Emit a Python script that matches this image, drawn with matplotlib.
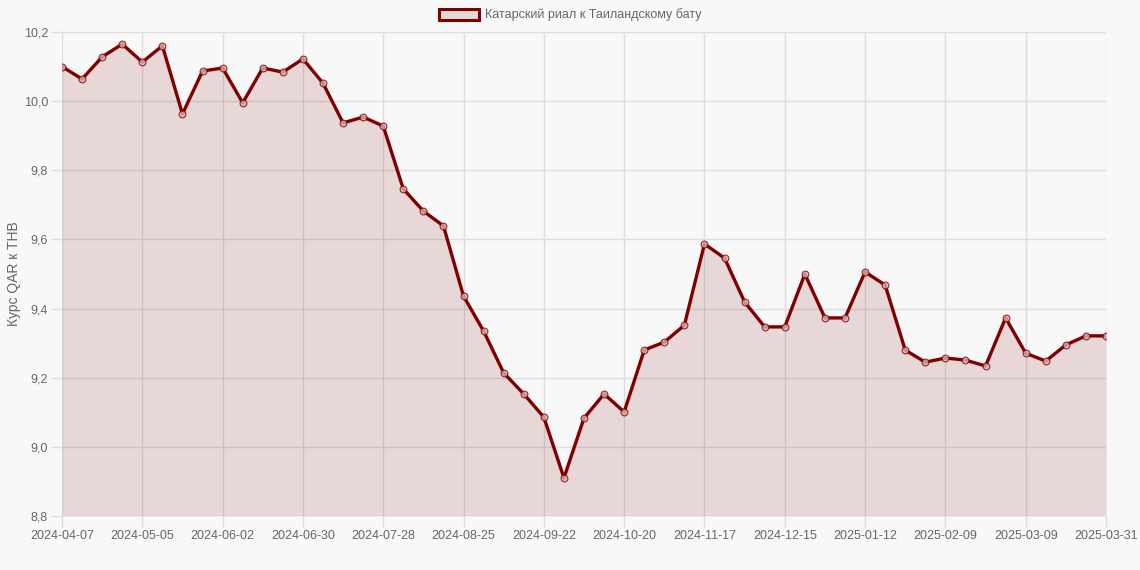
import numpy as np
import pandas as pd
import matplotlib
matplotlib.use("Agg")
import matplotlib.pyplot as plt
from matplotlib.patches import Patch
from matplotlib.ticker import FuncFormatter

# weekly dates, last point is 2025-03-31
dates = list(pd.date_range("2024-04-07", periods=52, freq="7D").strftime("%Y-%m-%d")) + ["2025-03-31"]

rates = [10.100, 10.064, 10.128, 10.165, 10.113, 10.160, 9.963, 10.087, 10.096, 9.995,
         10.096, 10.084, 10.122, 10.052, 9.937, 9.954, 9.928, 9.746, 9.682, 9.639,
         9.436, 9.335, 9.214, 9.153, 9.086, 8.910, 9.083, 9.153, 9.101, 9.280,
         9.303, 9.352, 9.587, 9.546, 9.419, 9.347, 9.347, 9.500, 9.373, 9.373,
         9.506, 9.468, 9.280, 9.245, 9.257, 9.251, 9.234, 9.373, 9.271, 9.248,
         9.295, 9.321, 9.321]

legend_label = "Катарский риал к Таиландскому бату"
y_label = "Курс QAR к THB"

plt.rcParams['font.family'] = ['Liberation Sans', 'DejaVu Sans']

line_col = "#800000"
bg = "#f8f8f8"
txt_col = "#666666"
grid_col = "#dcdcdc"
fill_rgba = (0.5, 0, 0, 0.13)

fig = plt.figure(figsize=(11.4, 5.7), dpi=100, facecolor=bg)
ax = fig.add_axes([62/1140, 1 - 516/570, (1106 - 62)/1140, (516 - 32)/570])
ax.set_facecolor(bg)

x = np.arange(len(rates))
ax.fill_between(x, rates, 8.8, color=fill_rgba, linewidth=0)
ax.plot(x, rates, color=line_col, linewidth=2.4, zorder=3)
ax.scatter(x, rates, s=24, facecolor=(0.85, 0.7, 0.7, 0.8), edgecolor=(0.5, 0, 0, 0.8),
           linewidth=0.8, zorder=4)

ax.set_xlim(0, len(rates) - 1)
ax.set_ylim(8.8, 10.2)

tick_idx = sorted(set(list(range(0, len(rates) - 1, 4)) + [len(rates) - 1]))
ax.set_xticks(tick_idx)
ax.set_xticklabels([dates[i] for i in tick_idx])
ax.set_yticks(np.arange(8.8, 10.21, 0.2))
ax.yaxis.set_major_formatter(FuncFormatter(lambda v, p: f"{v:.1f}".replace(".", ",")))

ax.grid(True, color=grid_col, linewidth=1)
ax.set_axisbelow(True)
for s in ax.spines.values():
    s.set_visible(False)
ax.tick_params(axis="both", colors=grid_col, length=8, width=1, labelcolor=txt_col, labelsize=9, pad=2)

ax.set_ylabel(y_label, color=txt_col, fontsize=10, labelpad=2)

handle = Patch(facecolor=fill_rgba, edgecolor=line_col, linewidth=2.2)
fig.legend([handle], [legend_label], loc="center", bbox_to_anchor=(0.5, 1 - 15/570),
           frameon=False, fontsize=9, labelcolor=txt_col, handlelength=3.2, handleheight=1.0,
           handletextpad=0.5)

fig.savefig("out.png", dpi=100, facecolor=bg)
